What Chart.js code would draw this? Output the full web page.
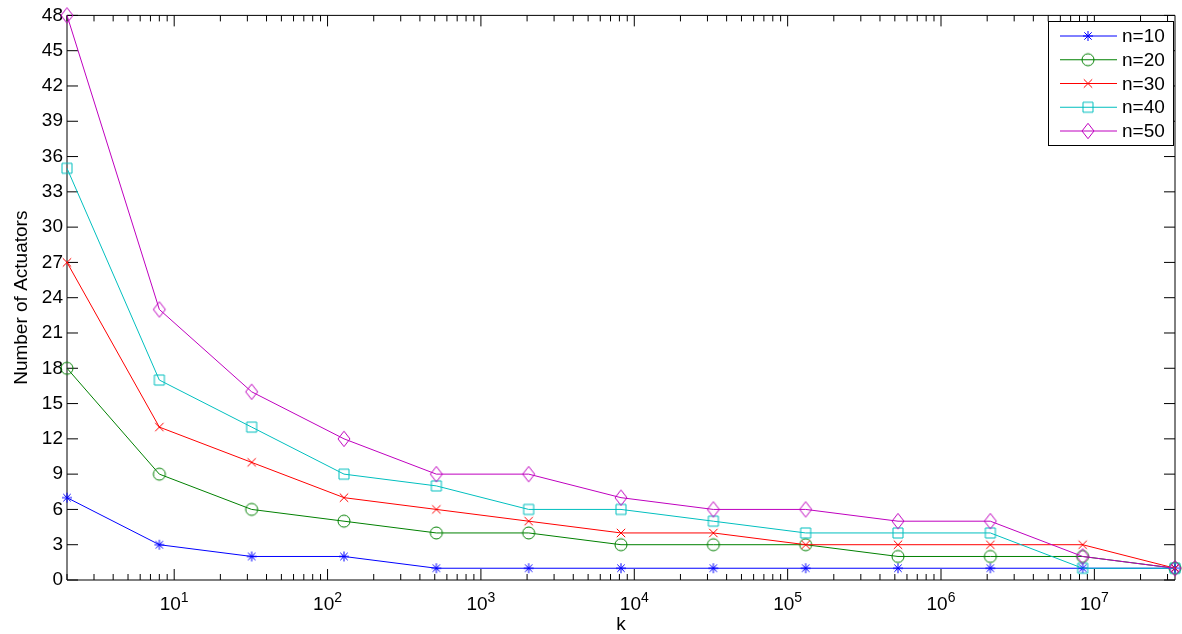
<!DOCTYPE html>
<html>
<head>
<meta charset="utf-8">
<script src="https://cdn.jsdelivr.net/npm/chart.js@4/dist/chart.umd.min.js"></script>
<style>
  html, body { margin: 0; padding: 0; background: #fff; }
  canvas { display: block; }
</style>
</head>
<body>
<canvas id="chart" width="1182" height="634"></canvas>
<script>
// data
const kValues = [2, 8, 32, 128, 512, 2048, 8192, 32768, 131072, 524288, 2097152, 8388608, 33554432];
const n10 = [7, 3, 2, 2, 1, 1, 1, 1, 1, 1, 1, 1, 1];
const n20 = [18, 9, 6, 5, 4, 4, 3, 3, 3, 2, 2, 2, 1];
const n30 = [27, 13, 10, 7, 6, 5, 4, 4, 3, 3, 3, 3, 1];
const n40 = [35, 17, 13, 9, 8, 6, 6, 5, 4, 4, 4, 1, 1];
const n50 = [48, 23, 16, 12, 9, 9, 7, 6, 6, 5, 5, 2, 1];
const seriesNames = ['n=10', 'n=20', 'n=30', 'n=40', 'n=50'];
const xTickExponents = [1, 2, 3, 4, 5, 6, 7];

const FONT = 'Helvetica, "Liberation Sans", Arial, sans-serif';
const colors = ['#0000ff', '#008000', '#ff0000', '#00bfbf', '#bf00bf'];
const markerKinds = ['asterisk', 'circle', 'cross', 'square', 'diamond'];
const seriesValues = [n10, n20, n30, n40, n50];

Chart.defaults.font.family = FONT;
Chart.defaults.color = '#000';

// MATLAB-like open markers, drawn once into small canvases
function makeMarker(kind, color) {
  const c = document.createElement('canvas');
  c.width = 20; c.height = 20;
  const g = c.getContext('2d');
  const m = 10;
  g.strokeStyle = color;
  g.lineWidth = 1;
  g.beginPath();
  if (kind === 'asterisk') {
    g.moveTo(m, m - 5); g.lineTo(m, m + 5);
    g.moveTo(m - 5, m); g.lineTo(m + 5, m);
    g.moveTo(m - 3.7, m - 3.7); g.lineTo(m + 3.7, m + 3.7);
    g.moveTo(m - 3.7, m + 3.7); g.lineTo(m + 3.7, m - 3.7);
  } else if (kind === 'circle') {
    g.arc(m, m, 6, 0, Math.PI * 2);
  } else if (kind === 'cross') {
    g.moveTo(m - 4.2, m - 4.2); g.lineTo(m + 4.2, m + 4.2);
    g.moveTo(m - 4.2, m + 4.2); g.lineTo(m + 4.2, m - 4.2);
  } else if (kind === 'square') {
    g.rect(m - 5, m - 5, 10, 10);
  } else if (kind === 'diamond') {
    g.moveTo(m, m - 7.7); g.lineTo(m + 6, m); g.lineTo(m, m + 7.7); g.lineTo(m - 6, m); g.closePath();
  }
  g.stroke();
  return c;
}
const markers = markerKinds.map((k, i) => makeMarker(k, colors[i]));

// frame + inward ticks on all four sides, x labels as 10^n, legend box
const frameTicks = {
  id: 'frameTicks',
  beforeDatasetsDraw(chart) {
    const { ctx, chartArea: a, scales: { x, y } } = chart;
    ctx.save();
    ctx.strokeStyle = '#000';
    ctx.lineWidth = 1;
    ctx.beginPath();
    y.ticks.forEach(t => {
      const py = y.getPixelForValue(t.value);
      ctx.moveTo(a.left, py); ctx.lineTo(a.left + 11, py);
      ctx.moveTo(a.right, py); ctx.lineTo(a.right - 11, py);
    });
    for (let d = 0; d <= 7; d++) {
      for (let m = 1; m <= 9; m++) {
        const v = m * Math.pow(10, d);
        if (v < x.min || v > x.max) continue;
        const px = x.getPixelForValue(v);
        const len = m === 1 ? 11 : 6;
        ctx.moveTo(px, a.bottom); ctx.lineTo(px, a.bottom - len);
        ctx.moveTo(px, a.top); ctx.lineTo(px, a.top + len);
      }
    }
    ctx.moveTo(a.left, a.top); ctx.lineTo(a.right, a.top);
    ctx.lineTo(a.right, a.bottom); ctx.lineTo(a.left, a.bottom); ctx.closePath();
    ctx.stroke();
    ctx.restore();
  },
  afterDraw(chart) {
    const { ctx, scales: { x } } = chart;
    ctx.save();
    ctx.fillStyle = '#000';
    ctx.textBaseline = 'alphabetic';
    ctx.textAlign = 'left';
    xTickExponents.forEach(e => {
      const px = x.getPixelForValue(Math.pow(10, e));
      ctx.font = '19px ' + FONT;
      const w1 = ctx.measureText('10').width;
      ctx.font = '14px ' + FONT;
      const w2 = ctx.measureText(String(e)).width;
      const start = px - (w1 + w2) / 2;
      ctx.font = '19px ' + FONT;
      ctx.fillText('10', start, 610);
      ctx.font = '14px ' + FONT;
      ctx.fillText(String(e), start + w1, 602);
    });

    // legend box
    ctx.fillStyle = '#fff';
    ctx.fillRect(1048, 21, 126, 125);
    ctx.strokeStyle = '#000';
    ctx.lineWidth = 1;
    ctx.strokeRect(1048.5, 21.5, 125, 124);
    ctx.font = '19px ' + FONT;
    ctx.textBaseline = 'middle';
    seriesNames.forEach((name, i) => {
      const ry = 36 + i * 23.75;
      ctx.strokeStyle = colors[i];
      ctx.beginPath();
      ctx.moveTo(1060, ry); ctx.lineTo(1117, ry);
      ctx.stroke();
      ctx.drawImage(markers[i], 1088 - 10, ry - 10);
      ctx.fillStyle = '#000';
      ctx.fillText(name, 1122, ry + 1);
    });
    ctx.restore();
  }
};

new Chart(document.getElementById('chart'), {
  type: 'line',
  data: {
    datasets: seriesValues.map((vals, i) => ({
      label: seriesNames[i],
      data: vals.map((v, j) => ({ x: kValues[j], y: v })),
      borderColor: colors[i],
      borderWidth: 1,
      pointStyle: markers[i],
      pointRadius: 6,
      tension: 0,
      fill: false,
      clip: false,
      order: 4 - i
    }))
  },
  options: {
    responsive: false,
    animation: false,
    layout: { padding: { left: 0, right: 0, top: 12, bottom: 0 } },
    plugins: { legend: { display: false }, tooltip: { enabled: false } },
    scales: {
      x: {
        type: 'logarithmic',
        min: 2,
        max: 33554432,
        ticks: { display: false },
        grid: { display: false },
        border: { display: false },
        title: { display: true, text: 'k', color: '#000', font: { size: 19, lineHeight: 1 }, padding: 0 },
        afterFit(s) { s.height = 54; }
      },
      y: {
        min: 0,
        max: 48,
        ticks: { stepSize: 3, color: '#000', font: { size: 19 }, padding: 4 },
        grid: { display: false, drawTicks: false },
        border: { display: false },
        title: { display: true, text: 'Number of Actuators', color: '#000', font: { size: 19, lineHeight: 1 }, padding: { top: 12, bottom: 0 } },
        afterFit(s) { s.width = 67; }
      }
    }
  },
  plugins: [frameTicks]
});
</script>
</body>
</html>
